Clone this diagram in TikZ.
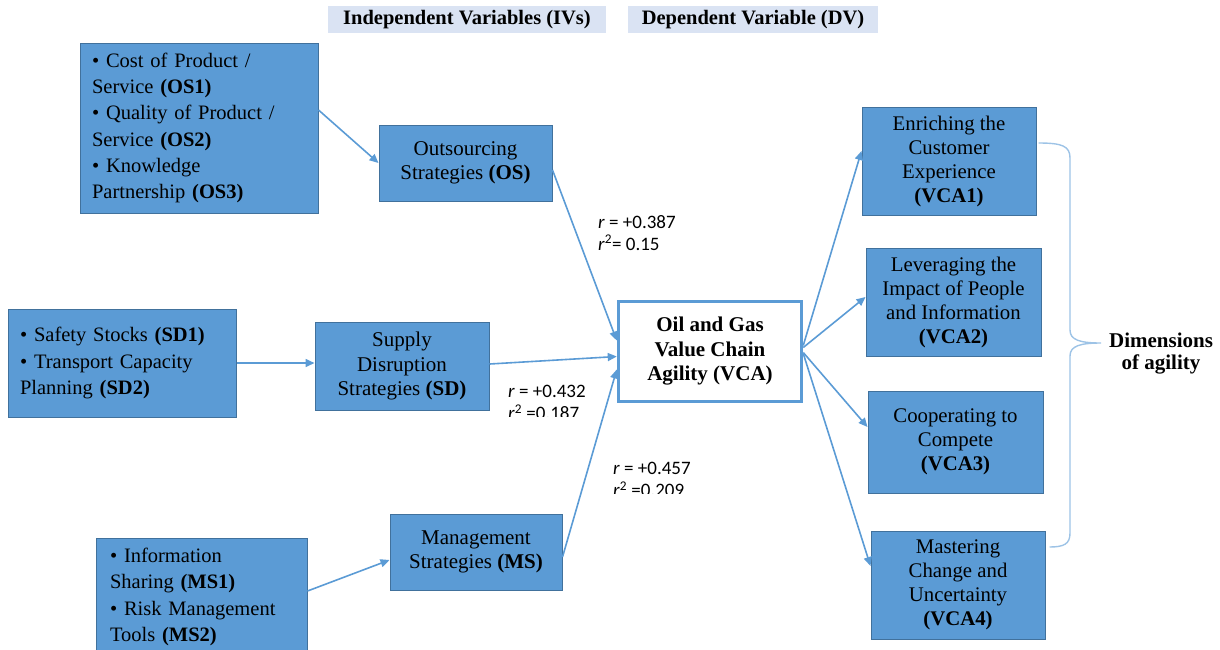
\documentclass[tikz,border=0pt]{standalone}
\usepackage{fontspec}
\setmainfont{Liberation Serif}
\newfontfamily\statfont{Carlito}
\usetikzlibrary{arrows.meta,calc}
\definecolor{boxblue}{HTML}{5B9BD5}
\definecolor{boxedge}{HTML}{41719C}
\definecolor{headbg}{HTML}{DAE3F3}
\definecolor{bracecol}{HTML}{9DC3E6}

\begin{document}
\begin{tikzpicture}[x=1pt,y=-1pt,
  listbox/.style={draw=boxedge, line width=1pt, fill=boxblue, align=left,
    font=\fontsize{20.5}{26.3}\selectfont, inner xsep=12pt, inner ysep=0pt},
  stratbox/.style={draw=boxedge, line width=1pt, fill=boxblue, align=center,
    font=\fontsize{21}{24.5}\selectfont, inner sep=0pt,
    minimum width=173pt},
  dimbox/.style={draw=boxedge, line width=1pt, fill=boxblue, align=center,
    font=\fontsize{20.8}{24}\selectfont, inner sep=0pt,
    minimum width=174pt},
  dvbox/.style={draw=boxblue, line width=3.5pt, fill=white, align=center,
    font=\bfseries\fontsize{21}{24.5}\selectfont, inner sep=0pt,
    minimum width=183pt, minimum height=100pt},
  headbox/.style={fill=headbg, inner sep=0pt, minimum height=27pt,
    font=\bfseries\fontsize{20.5}{22}\selectfont},
  stat/.style={anchor=north west, align=left, inner sep=0pt,
    font=\statfont\fontsize{19}{22}\selectfont},
  link/.style={draw=boxblue, line width=1.6pt,
    -{Triangle[length=9pt,width=8pt]}},
  bracket/.style={draw=bracecol, line width=1.4pt}
]
\useasboundingbox (0,0) rectangle (1220,649);

% column headings
\node[headbox, minimum width=278pt] (ivhead) at (467,19.5) {Independent Variables (IVs)};
\node[headbox, minimum width=250pt] (dvhead) at (753,19.5) {Dependent Variable (DV)};

% indicator lists
\node[listbox, text width=214pt, minimum height=170pt] (oslist) at (199,128)
  {\textbullet{} Cost of Product /\\ Service \textbf{(OS1)}\\
   \textbullet{} Quality of Product /\\ Service \textbf{(OS2)}\\
   \textbullet{} Knowledge\\ Partnership \textbf{(OS3)}};
\node[listbox, text width=204pt, minimum height=108pt] (sdlist) at (122,363)
  {\textbullet{} Safety Stocks \textbf{(SD1)}\\
   \textbullet{} Transport Capacity\\ Planning \textbf{(SD2)}};
\node[listbox, inner xsep=14pt, text width=183pt, minimum height=118pt] (mslist) at (201.5,597)
  {\textbullet{} Information\\ Sharing \textbf{(MS1)}\\
   \textbullet{} Risk Management\\ Tools \textbf{(MS2)}};

% strategies
\node[stratbox, minimum height=76pt] (os) at (465.5,163)
  {Outsourcing\\ Strategies \textbf{(OS)}};
\node[stratbox, minimum width=174pt, minimum height=88pt] (sd) at (402,366)
  {Supply\\ Disruption\\ Strategies \textbf{(SD)}};
\node[stratbox, minimum width=172pt, minimum height=76pt] (ms) at (476,552)
  {Management\\ Strategies \textbf{(MS)}};

% dependent variable
\node[dvbox] (vca) at (710,351.5) {Oil and Gas\\ Value Chain\\ Agility (VCA)};

% dimensions of agility
\node[dimbox, minimum height=108pt] (vca1) at (949,161)
  {Enriching the\\ Customer\\ Experience\\ \textbf{(VCA1)}};
\node[dimbox, minimum width=175pt, minimum height=108pt] (vca2) at (953.5,302)
  {Leveraging the\\ Impact of People\\ and Information\\ \textbf{(VCA2)}};
\node[dimbox, minimum width=175pt, minimum height=102pt] (vca3) at (955.5,442)
  {Cooperating to\\ Compete\\ \textbf{(VCA3)}};
\node[dimbox, minimum height=108pt] (vca4) at (958,585)
  {Mastering\\ Change and\\ Uncertainty\\ \textbf{(VCA4)}};

\node[align=center, inner sep=0pt, font=\bfseries\fontsize{21}{22}\selectfont]
  (dimlabel) at (1161,354) {Dimensions\\ of agility};

% correlation figures (the lower two are cut off along their bottom edge)
\node[stat] (r1) at (598,215) {\textit{r} = +0.387\\ \textit{r}\textsuperscript{2}= 0.15};
\begin{scope}
  \clip (500,370) rectangle (600,416);
  \node[stat] (r2) at (508,385) {\textit{r} = +0.432\\ \textit{r}\textsuperscript{2} =0.187};
\end{scope}
\begin{scope}
  \clip (600,450) rectangle (710,493);
  \node[stat] (r3) at (613,462) {\textit{r} = +0.457\\ \textit{r}\textsuperscript{2} =0.209};
\end{scope}

% indicators to strategies
\path[link] ([yshift=18pt]oslist.east) -- (os.west);
\path[link] (sdlist.east) -- (sdlist.east -| sd.west);
\path[link] ([yshift=6pt]mslist.east) -- ([yshift=-8pt]ms.west);

% strategies to the dependent variable
\path[link] ([yshift=-7pt]os.east) -- ([yshift=11pt]vca.west);
\path[link] ([yshift=2pt]sd.east) -- ([yshift=-5pt]vca.west);
\path[link] ([yshift=-5pt]ms.east) -- ([yshift=-18pt]vca.west);

% dependent variable to its dimensions
\path[link] ([yshift=6pt]vca.east) -- ([yshift=10pt]vca1.west);
\path[link] ([yshift=4pt]vca.east) -- ([yshift=5pt]vca2.west);
\path[link] ([yshift=-1pt]vca.east) -- ([yshift=15pt]vca3.west);
\path[link] ([yshift=-2pt]vca.east) -- ([yshift=19pt]vca4.west);

% curly bracket grouping the four dimensions
\coordinate (btop) at ([xshift=2pt,yshift=18pt]vca1.east);
\coordinate (bbot) at ([xshift=4pt,yshift=38pt]vca4.east);
\coordinate (btip) at (1101,343);
\draw[bracket] (btop) .. controls (1062,143) and (1070,146) .. (1070,158)
  -- (1070,330) .. controls (1070,340) and (1080,343) .. (btip)
  .. controls (1080,343) and (1070,346) .. (1070,356)
  -- (1070,533) .. controls (1070,544) and (1064,547) .. (bbot);
\end{tikzpicture}
\end{document}
